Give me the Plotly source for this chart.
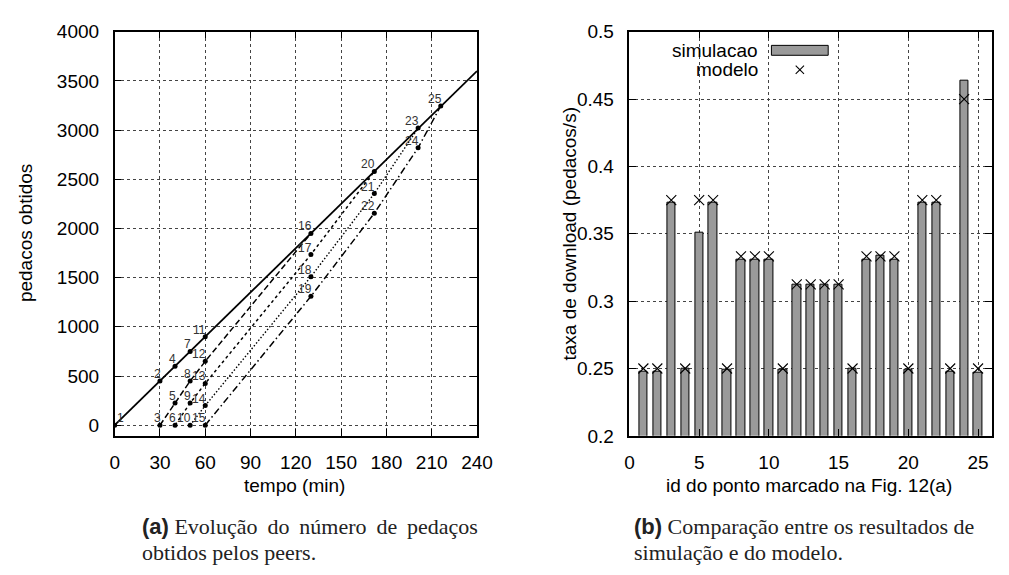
import plotly.graph_objects as go

# ---------------- data: panel (a) ----------------
point_ids = list(range(1, 26))
point_time = [0, 30, 30, 40, 40, 40, 50, 50, 50, 50, 60, 60, 60, 60, 60,
              130, 130, 130, 130, 172, 172, 172, 201, 201, 216]
point_pieces = [0, 450, 0, 600, 225, 0, 750, 450, 225, 0, 900, 650, 425, 200, 0,
                1950, 1735, 1510, 1310, 2580, 2355, 2155, 3020, 2820, 3245]

# paths followed by each peer (sequence of marked point ids)
path_peer1 = [1, 2, 4, 7, 11, 16, 20, 23, 25]
path_peer3 = [3, 5, 8, 12, 16]
path_peer6 = [6, 9, 13, 17, 20]
path_peer10 = [10, 14, 18, 21, 23]
path_peer15 = [15, 19, 22, 24, 25]
peer1_tail_time = [240]
peer1_tail_pieces = [3600]

# ---------------- data: panel (b) ----------------
bar_ids = list(range(1, 26))
sim_rate = [0.248, 0.248, 0.373, 0.250, 0.351, 0.373, 0.249, 0.331, 0.331, 0.331,
            0.249, 0.312, 0.312, 0.312, 0.312, 0.250, 0.331, 0.334, 0.331, 0.249,
            0.373, 0.373, 0.248, 0.464, 0.247]
model_rate = [0.25, 0.25, 0.375, 0.25, 0.375, 0.375, 0.25, 0.3333, 0.3333, 0.3333,
              0.25, 0.3125, 0.3125, 0.3125, 0.3125, 0.25, 0.3333, 0.3333, 0.3333, 0.25,
              0.375, 0.375, 0.25, 0.45, 0.25]

W, H = 1009, 575
def fx(px):
    return px / W
def fy(py):
    return 1 - py / H

SANS = "Liberation Sans"
SERIF = "Liberation Serif"
FS = 19

fig = go.Figure()

def path_xy(path):
    xs = [point_time[i - 1] for i in path]
    ys = [point_pieces[i - 1] for i in path]
    return xs, ys

line_styles = [
    (path_peer1, "solid", 1.8),
    (path_peer3, "6px,3px", 1.5),
    (path_peer6, "3px,3px", 1.5),
    (path_peer10, "1.5px,2px", 1.4),
    (path_peer15, "7px,3px,1.5px,3px", 1.5),
]
for k, (path, dash, w) in enumerate(line_styles):
    xs, ys = path_xy(path)
    if k == 0:
        xs = xs + peer1_tail_time
        ys = ys + peer1_tail_pieces
    fig.add_trace(go.Scatter(x=xs, y=ys, mode="lines",
                             line=dict(color="black", width=w, dash=dash),
                             xaxis="x", yaxis="y", showlegend=False,
                             hoverinfo="skip"))

fig.add_trace(go.Scatter(x=point_time, y=point_pieces, mode="markers",
                         marker=dict(color="black", size=5),
                         xaxis="x", yaxis="y", showlegend=False))

annotations = []
for pid, t, p in zip(point_ids, point_time, point_pieces):
    if pid == 1:
        annotations.append(dict(x=t, y=p, xref="x", yref="y", text=str(pid),
                                showarrow=False, xanchor="left", yanchor="middle",
                                xshift=0, yshift=7,
                                font=dict(family=SANS, size=12, color="#333")))
    else:
        annotations.append(dict(x=t, y=p, xref="x", yref="y", text=str(pid),
                                showarrow=False, xanchor="right", yanchor="middle",
                                xshift=3, yshift=7,
                                font=dict(family=SANS, size=12, color="#333")))

# panel (b)
fig.add_trace(go.Bar(x=bar_ids, y=sim_rate, width=0.6,
                     marker=dict(color="#9a9a9a", line=dict(color="black", width=1)),
                     xaxis="x2", yaxis="y2", showlegend=False))
fig.add_trace(go.Scatter(x=bar_ids, y=model_rate, mode="markers",
                         marker=dict(symbol="x-thin", size=10,
                                     line=dict(color="black", width=1.1)),
                         xaxis="x2", yaxis="y2", showlegend=False))

axis_common = dict(showline=True, linecolor="black", linewidth=1.5, mirror="ticks",
                   ticks="inside", ticklen=7, tickwidth=1.2, tickcolor="black",
                   showgrid=True, gridcolor="#444", gridwidth=1, griddash="dot",
                   zeroline=False,
                   tickfont=dict(family=SANS, size=FS, color="black"))

y_dom = [fy(442), fy(22.5)]
fig.update_layout(
    width=W, height=H,
    margin=dict(l=0, r=0, t=0, b=0),
    paper_bgcolor="white", plot_bgcolor="white",
    bargap=0,
    xaxis=dict(domain=[fx(112), fx(482)], range=[0, 240], tick0=0, dtick=30,
               anchor="y", ticklabelstandoff=9, **axis_common),
    yaxis=dict(domain=y_dom, range=[-108, 4000], tick0=0, dtick=500,
               anchor="x", ticklabelstandoff=10, **axis_common),
    xaxis2=dict(domain=[fx(637.7), fx(1008)], range=[0, 26], tick0=0, dtick=5,
                anchor="y2", ticklabelstandoff=9, **axis_common),
    yaxis2=dict(domain=y_dom, range=[0.2, 0.5], tick0=0.2, dtick=0.05,
                anchor="x2", ticklabelstandoff=10, **axis_common),
)

# axis titles
annotations += [
    dict(x=fx(295.5), y=fy(494), xref="paper", yref="paper", text="tempo (min)",
         showarrow=False, xanchor="center", yanchor="middle",
         font=dict(family=SANS, size=FS, color="black")),
    dict(x=fx(821), y=fy(494), xref="paper", yref="paper",
         text="id do ponto marcado na Fig. 12(a)",
         showarrow=False, xanchor="center", yanchor="middle",
         font=dict(family=SANS, size=FS, color="black")),
    dict(x=fx(21), y=fy(232), xref="paper", yref="paper", text="pedacos obtidos",
         textangle=-90, showarrow=False, xanchor="center", yanchor="middle",
         font=dict(family=SANS, size=FS, color="black")),
    dict(x=fx(577), y=fy(232), xref="paper", yref="paper",
         text="taxa de download (pedacos/s)",
         textangle=-90, showarrow=False, xanchor="center", yanchor="middle",
         font=dict(family=SANS, size=FS, color="black")),
]

# legend of panel (b), drawn gnuplot-style (label left of key)
annotations += [
    dict(x=fx(771), y=fy(42), xref="paper", yref="paper", text="simulacao",
         showarrow=False, xanchor="right", yanchor="middle",
         font=dict(family=SANS, size=FS, color="black")),
    dict(x=fx(771), y=fy(62), xref="paper", yref="paper", text="modelo",
         showarrow=False, xanchor="right", yanchor="middle",
         font=dict(family=SANS, size=FS, color="black")),
]
shapes = [
    dict(type="rect", xref="paper", yref="paper", x0=fx(650), x1=fx(890),
         y0=fy(73), y1=fy(23.5), fillcolor="white", line=dict(width=0),
         layer="between"),
    dict(type="rect", xref="paper", yref="paper", x0=fx(782.7), x1=fx(840.7),
         y0=fy(47), y1=fy(36.7), fillcolor="#9a9a9a",
         line=dict(color="black", width=1), layer="above"),
    dict(type="line", xref="paper", yref="paper", x0=fx(807.5), x1=fx(816),
         y0=fy(57.8), y1=fy(66.3), line=dict(color="black", width=1.1)),
    dict(type="line", xref="paper", yref="paper", x0=fx(807.5), x1=fx(816),
         y0=fy(66.3), y1=fy(57.8), line=dict(color="black", width=1.1)),
]

# captions
cap_font = dict(family=SERIF, size=22, color="#222")
def bold_tag(s):
    return "<span style='font-family:Liberation Sans'><b>" + s + "</b></span>"
annotations += [
    dict(x=fx(138), y=fy(536), xref="paper", yref="paper",
         text=bold_tag("(a)") + " Evolução  do  número  de  pedaços".replace("  ", " \u2009"),
         showarrow=False, xanchor="left", yanchor="middle", font=cap_font),
    dict(x=fx(138), y=fy(563), xref="paper", yref="paper",
         text="obtidos pelos peers.",
         showarrow=False, xanchor="left", yanchor="middle", font=cap_font),
    dict(x=fx(640), y=fy(536), xref="paper", yref="paper",
         text=bold_tag("(b)") + " Comparação entre os resultados de",
         showarrow=False, xanchor="left", yanchor="middle", font=cap_font),
    dict(x=fx(640), y=fy(563), xref="paper", yref="paper",
         text="simulação e do modelo.",
         showarrow=False, xanchor="left", yanchor="middle", font=cap_font),
]

fig.update_layout(annotations=annotations, shapes=shapes)
fig.write_html("out.html", config={"displayModeBar": False},
               post_script="document.body.style.margin='0px';document.body.style.overflow='hidden';")
